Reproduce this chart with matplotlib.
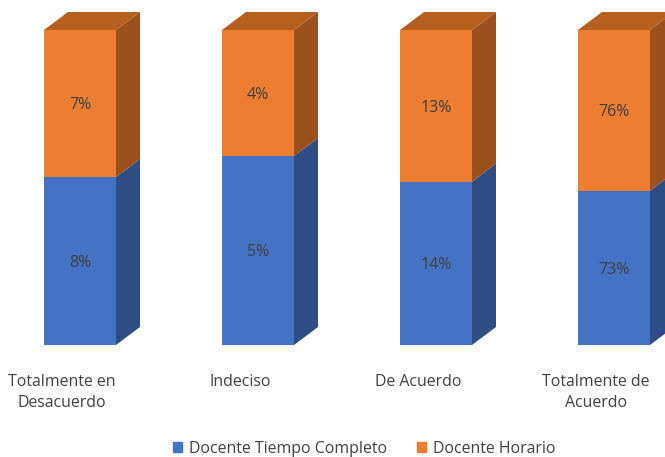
import matplotlib
matplotlib.use("Agg")
import matplotlib.pyplot as plt
from matplotlib.patches import Polygon
import numpy as np

categories = ["Totalmente en\nDesacuerdo", "Indeciso", "De Acuerdo", "Totalmente de\nAcuerdo"]
series_names = ["Docente Tiempo Completo", "Docente Horario"]
tiempo_completo = [8, 5.4, 14, 73]
horario = [7, 3.6, 13, 76]

colors = ["#4472C4", "#ED7D31"]
top_colors = ["#3A62A8", "#B5601F"]
side_colors = ["#2E4D85", "#9B511E"]
text_color = "#404040"

plt.rcParams['font.family'] = ['Open Sans', 'DejaVu Sans']

fig = plt.figure(figsize=(6.65, 4.57), dpi=100)
ax = fig.add_axes([0, 0, 1, 1])
ax.set_xlim(-62/178, (665-62)/178)
ax.set_ylim(-(457-345)/315, 345/315)
ax.axis('off')

off = 18/178
w = 72/178
dx = 24/178
dy = 18/315

x = np.arange(len(categories))
tc = np.array(tiempo_completo, float)
ho = np.array(horario, float)
tot = tc + ho
shares = [tc/tot, ho/tot]
raw = [tc, ho]

for i in range(len(categories)):
    bottom = 0.0
    left = x[i] - off
    right = left + w
    for s in range(2):
        h = shares[s][i]
        top = bottom + h
        ax.bar(left, h, width=w, bottom=bottom, align='edge', color=colors[s], linewidth=0, zorder=2)
        side = Polygon([(right, bottom), (right+dx, bottom+dy), (right+dx, top+dy), (right, top)],
                       closed=True, facecolor=side_colors[s], edgecolor='none', zorder=2)
        ax.add_patch(side)
        if s == 1:
            tp = Polygon([(left, top), (left+dx, top+dy), (right+dx, top+dy), (right, top)],
                         closed=True, facecolor=top_colors[s], edgecolor='none', zorder=2)
            ax.add_patch(tp)
        ax.text(left + w/2, bottom + h/2 - 0.006, f"{raw[s][i]:.0f}%", ha='center', va='center',
                fontsize=11.5, color=text_color, zorder=3)
        bottom = top
    ax.text(x[i], -(374-345)/315, categories[i], ha='center', va='top', fontsize=11.4,
            color=text_color, linespacing=1.45)

handles = [plt.Rectangle((0, 0), 1, 1, color=c) for c in colors]
leg = ax.legend(handles, series_names, loc='center', bbox_to_anchor=(364/665, 1-449/457),
                ncol=2, frameon=False, fontsize=11.4, handlelength=0.6, handleheight=0.6,
                handletextpad=0.4, columnspacing=1.9)
for t in leg.get_texts():
    t.set_color(text_color)

fig.savefig("out.png", dpi=100)
